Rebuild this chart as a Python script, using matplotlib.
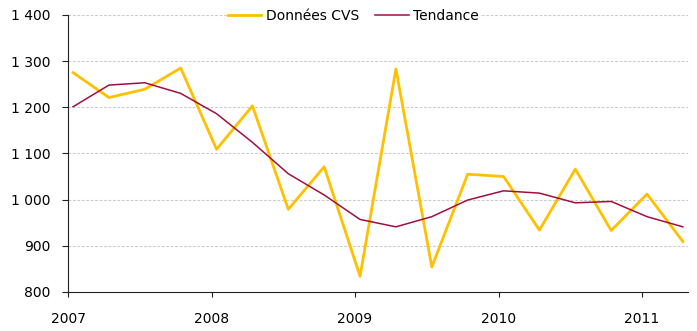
import matplotlib.pyplot as plt
import numpy as np
from matplotlib.ticker import FuncFormatter

plt.close('all')

# quarterly series, 2007 Q1 - 2011 Q2
quarters = np.arange(18)
cvs = [1275, 1221, 1239, 1285, 1109, 1203, 979, 1071, 834,
       1283, 854, 1055, 1050, 934, 1066, 933, 1012, 909]
trend = [1201, 1248, 1253, 1230, 1186, 1124, 1056, 1010, 957,
         941, 963, 999, 1019, 1014, 993, 996, 963, 941]
years = [2007, 2008, 2009, 2010, 2011]

x = 2007.035 + quarters / 4.0

fig = plt.figure(figsize=(6.97, 3.31), dpi=100)
ax = fig.add_axes([0.0976, 0.118, 0.8894, 0.837])

ax.plot(x, cvs, color='#FFC000', lw=2.0, label='Données CVS')
ax.plot(x, trend, color='#A0103C', lw=1.1, label='Tendance')

ax.set_xlim(2007, 2011.32)
ax.set_ylim(800, 1400)
ax.set_xticks(years)
ax.set_yticks(np.arange(800, 1401, 100))
ax.yaxis.set_major_formatter(FuncFormatter(lambda v, p: f'{int(v):,}'.replace(',', ' ')))

for v in range(900, 1401, 100):
    ax.axhline(v, color='#cccccc', lw=0.8, ls=(0, (2.5, 1.5)), zorder=0)

for s in ['top', 'right']:
    ax.spines[s].set_visible(False)
ax.spines['left'].set_color('#222222')
ax.spines['bottom'].set_color('#222222')
ax.tick_params(axis='y', length=4.3, pad=8.5, labelsize=10, color='#222222')
ax.tick_params(axis='x', length=3.6, pad=11, labelsize=10, color='#222222')

fig.legend(loc='center', bbox_to_anchor=(0.507, 0.952), ncol=2, frameon=True,
           edgecolor='none', facecolor='white', framealpha=1, fontsize=10,
           handlelength=2.4, handletextpad=0.3, columnspacing=1.2,
           borderpad=0.1)

plt.savefig('out.png', dpi=100)
